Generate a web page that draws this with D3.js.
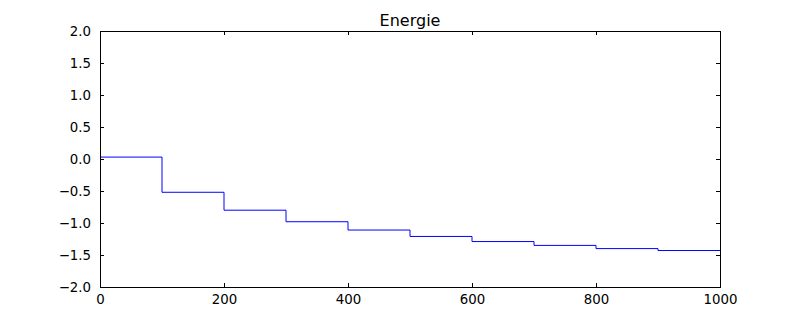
<!DOCTYPE html>
<html>
<head>
<meta charset="utf-8">
<style>
body { margin: 0; background: #fff; }
svg { display: block; }
</style>
</head>
<body>
<svg width="800" height="320"></svg>
<script src="https://cdn.jsdelivr.net/npm/d3@7/dist/d3.min.js"></script>
<script>

// step start positions and energy level on each step
var stepStarts = [0, 100, 200, 300, 400, 500, 600, 700, 800, 900];
var levels = [0.03, -0.52, -0.80, -0.98, -1.11, -1.21, -1.29, -1.35, -1.40, -1.43];
var xTicks = [0, 200, 400, 600, 800, 1000];
var yTicks = [-2.0, -1.5, -1.0, -0.5, 0.0, 0.5, 1.0, 1.5, 2.0];
var title = "Energie";

var margin = {left: 100, right: 80, top: 31, bottom: 33};
var width = 800, height = 320;
var font = "DejaVu Sans";

var svg = d3.select("svg");

var x = d3.scaleLinear().domain([0, 1000]).range([margin.left, width - margin.right]);
var y = d3.scaleLinear().domain([-2, 2]).range([height - margin.bottom, margin.top]);

// points for the step line, last level held to the end
var pts = stepStarts.map(function(s, i) { return [s, levels[i]]; });
pts.push([1000, levels[levels.length - 1]]);

var line = d3.line()
	.x(function(d) { return x(d[0]); })
	.y(function(d) { return y(d[1]); })
	.curve(d3.curveStepAfter);

svg.append("path")
	.datum(pts)
	.attr("d", line)
	.attr("fill", "none")
	.attr("stroke", "#0000ff")
	.attr("stroke-width", 1);

var fmt = function(d) { return d3.format(".1f")(d).replace("-", "\u2212"); };

// axes, ticks inside like matplotlib classic
var xAxisB = d3.axisBottom(x).tickValues(xTicks).tickSizeInner(-4).tickSizeOuter(0).tickPadding(8).tickFormat(d3.format("d"));
var xAxisT = d3.axisTop(x).tickValues(xTicks).tickSizeInner(-4).tickSizeOuter(0).tickFormat("");
var yAxisL = d3.axisLeft(y).tickValues(yTicks).tickSizeInner(-4).tickSizeOuter(0).tickPadding(9).tickFormat(fmt);
var yAxisR = d3.axisRight(y).tickValues(yTicks).tickSizeInner(-4).tickSizeOuter(0).tickFormat("");

function style(g) {
	g.attr("font-family", font).attr("font-size", 13.33);
	g.select(".domain").remove();
	g.selectAll("line").attr("stroke", "#000");
	g.selectAll("text").attr("fill", "#000");
}

svg.append("g").attr("transform", "translate(0," + y(-2) + ")").call(xAxisB).call(style);
svg.append("g").attr("transform", "translate(0," + y(2) + ")").call(xAxisT).call(style);
svg.append("g").attr("transform", "translate(" + x(0) + ",0)").call(yAxisL).call(style);
svg.append("g").attr("transform", "translate(" + x(1000) + ",0)").call(yAxisR).call(style);

// frame
svg.append("rect")
	.attr("x", x(0) + 0.5).attr("y", y(2) + 0.5)
	.attr("width", x(1000) - x(0)).attr("height", y(-2) - y(2))
	.attr("fill", "none").attr("stroke", "#000").attr("stroke-width", 1);

svg.append("text")
	.attr("x", (x(0) + x(1000)) / 2)
	.attr("y", 26)
	.attr("text-anchor", "middle")
	.attr("font-family", font)
	.attr("font-size", 16)
	.text(title);
</script>
</body>
</html>
